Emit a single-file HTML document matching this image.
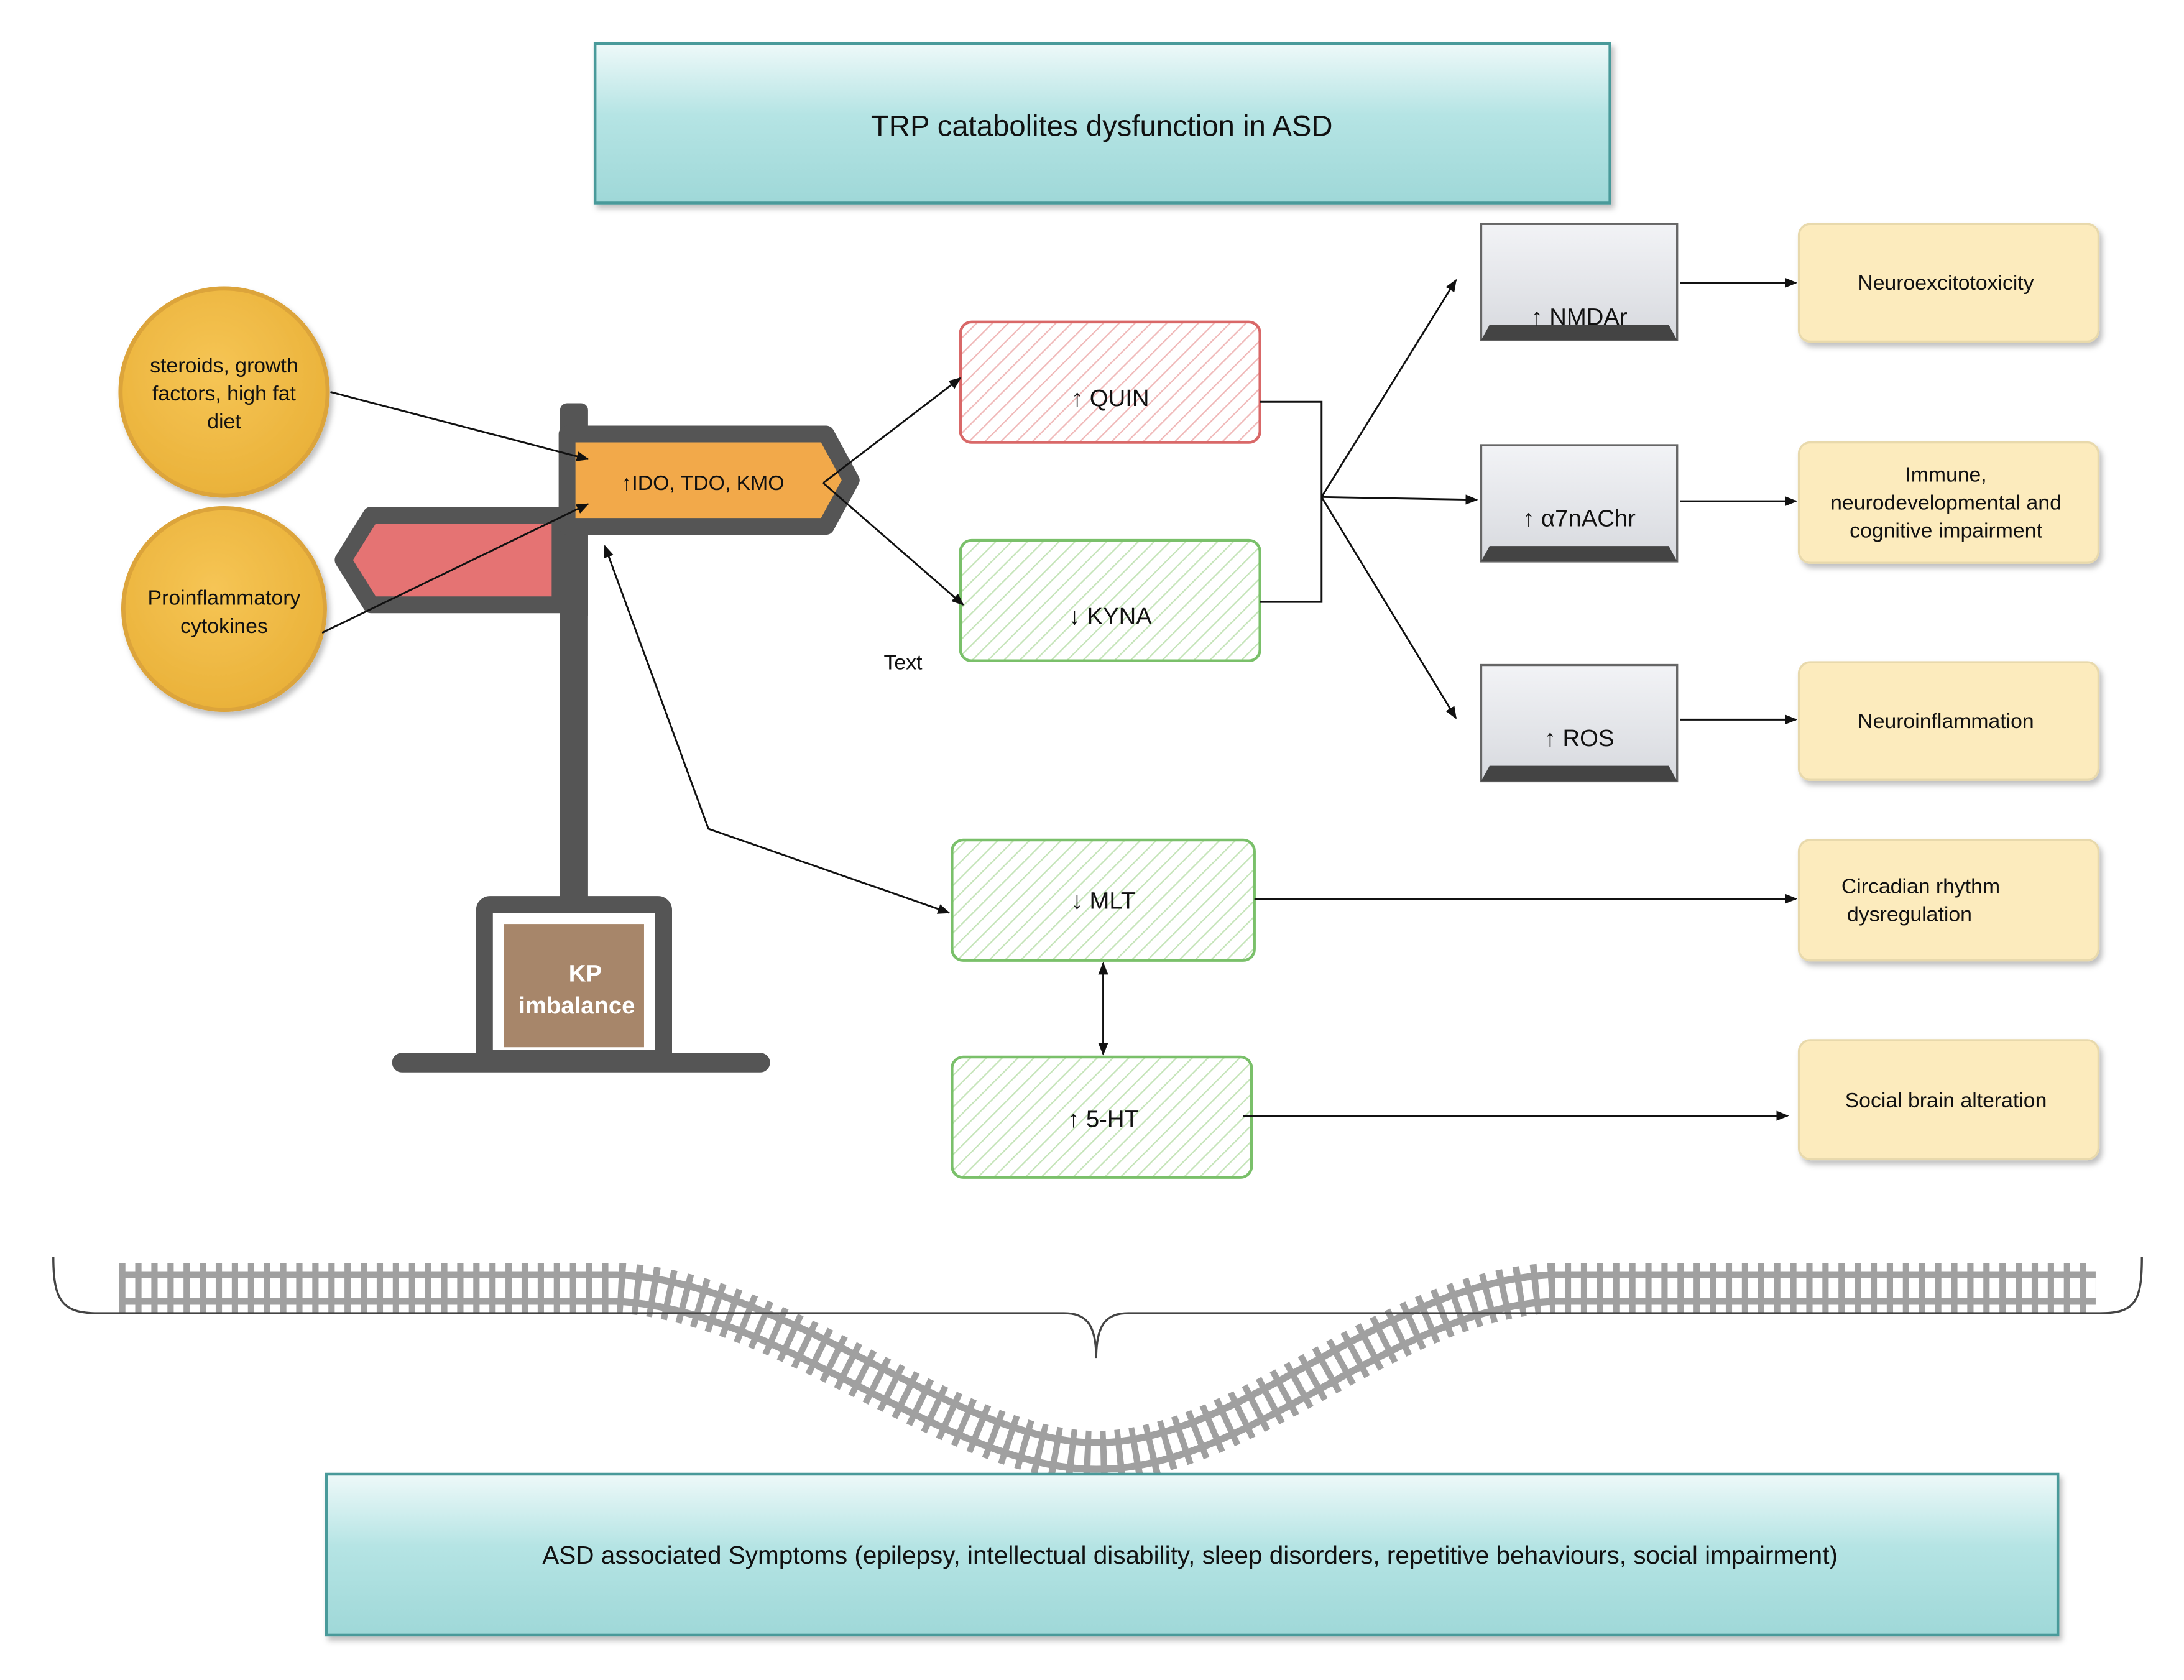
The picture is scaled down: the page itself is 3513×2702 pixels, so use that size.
<!DOCTYPE html>
<html><head><meta charset="utf-8"><style>
html,body{margin:0;padding:0;background:#fff;}
svg{display:block;}
text{font-family:"Liberation Sans",sans-serif;fill:#111;}
</style></head><body>
<svg width="3513" height="2702" viewBox="0 0 1560 1200" xmlns="http://www.w3.org/2000/svg">
<defs>
<linearGradient id="teal" x1="0" y1="0" x2="0" y2="1">
<stop offset="0" stop-color="#eef9f9"/><stop offset="0.45" stop-color="#b5e4e4"/><stop offset="1" stop-color="#9fd8d8"/>
</linearGradient>
<linearGradient id="gray" x1="0" y1="0" x2="0" y2="1">
<stop offset="0" stop-color="#f2f3f6"/><stop offset="1" stop-color="#d7d9de"/>
</linearGradient>
<radialGradient id="gold" cx="0.45" cy="0.4" r="0.6">
<stop offset="0" stop-color="#f6c555"/><stop offset="1" stop-color="#eab23a"/>
</radialGradient>
<pattern id="hr" width="8" height="8" patternUnits="userSpaceOnUse" patternTransform="rotate(45)">
<rect width="8" height="8" fill="#fff"/><line x1="0" y1="0" x2="0" y2="8" stroke="#f0b8b8" stroke-width="2"/>
</pattern>
<pattern id="hg" width="8" height="8" patternUnits="userSpaceOnUse" patternTransform="rotate(45)">
<rect width="8" height="8" fill="#fff"/><line x1="0" y1="0" x2="0" y2="8" stroke="#c4e4b8" stroke-width="2"/>
</pattern>
<marker id="ar" viewBox="0 0 10 10" refX="9" refY="5" markerWidth="9" markerHeight="9" orient="auto-start-reverse" markerUnits="userSpaceOnUse">
<path d="M0,1 L10,5 L0,9 z" fill="#111"/></marker>
<filter id="sh"><feDropShadow dx="2" dy="3" stdDeviation="2" flood-color="#000" flood-opacity="0.25"/></filter>
</defs>

<rect x="425" y="31" width="725" height="114" fill="url(#teal)" stroke="#4a9a9a" stroke-width="2" filter="url(#sh)"/>
<text x="787" y="97" font-size="21" text-anchor="middle">TRP catabolites dysfunction in ASD</text>

<circle cx="160" cy="280" r="74" fill="url(#gold)" stroke="#dca43a" stroke-width="3" filter="url(#sh)"/>
<text font-size="15" text-anchor="middle"><tspan x="160" y="266">steroids, growth</tspan><tspan x="160" y="286">factors, high fat</tspan><tspan x="160" y="306">diet</tspan></text>
<circle cx="160" cy="435" r="72" fill="url(#gold)" stroke="#dca43a" stroke-width="3" filter="url(#sh)"/>
<text font-size="15" text-anchor="middle"><tspan x="160" y="432">Proinflammatory</tspan><tspan x="160" y="452">cytokines</tspan></text>

<rect x="400" y="288" width="20" height="360" rx="5" fill="#555"/>
<path d="M400,368 L265,368 L245,400 L265,432 L400,432 z" fill="#e57373" stroke="#555" stroke-width="12" stroke-linejoin="round"/>
<rect x="400" y="370" width="20" height="70" fill="#555"/>
<path d="M405,310 L590,310 L608,343 L590,376 L405,376 z" fill="#f2a94a" stroke="#555" stroke-width="12" stroke-linejoin="round"/>
<text x="502" y="350" font-size="15" text-anchor="middle">↑IDO, TDO, KMO</text>
<rect x="346" y="646" width="128" height="110" rx="4" fill="#fff" stroke="#555" stroke-width="12"/>
<rect x="360" y="660" width="100" height="88" fill="#a7866a"/>
<text font-size="17" font-weight="bold" text-anchor="middle" style="fill:#fff"><tspan x="418" y="701">KP</tspan><tspan x="412" y="724">imbalance</tspan></text>
<rect x="280" y="752" width="270" height="14" rx="7" fill="#555"/>

<rect x="686" y="230" width="214" height="86" rx="8" fill="url(#hr)" stroke="#d96868" stroke-width="2"/>
<text x="793" y="290" font-size="17" text-anchor="middle">↑ QUIN</text>
<rect x="686" y="386" width="214" height="86" rx="8" fill="url(#hg)" stroke="#7ac06a" stroke-width="2"/>
<text x="793" y="446" font-size="17" text-anchor="middle">↓ KYNA</text>
<rect x="680" y="600" width="216" height="86" rx="8" fill="url(#hg)" stroke="#7ac06a" stroke-width="2"/>
<text x="788" y="649" font-size="17" text-anchor="middle">↓ MLT</text>
<rect x="680" y="755" width="214" height="86" rx="8" fill="url(#hg)" stroke="#7ac06a" stroke-width="2"/>
<text x="788" y="805" font-size="17" text-anchor="middle">↑ 5-HT</text>
<text x="645" y="478" font-size="15" text-anchor="middle">Text</text>

<g>
<rect x="1058" y="160" width="140" height="83" fill="url(#gray)" stroke="#666" stroke-width="1.5"/>
<path d="M1058,243 L1064,232 L1192,232 L1198,243 z" fill="#444"/>
<text x="1128" y="232" font-size="17" text-anchor="middle">↑ NMDAr</text>
</g>
<g>
<rect x="1058" y="318" width="140" height="83" fill="url(#gray)" stroke="#666" stroke-width="1.5"/>
<path d="M1058,401 L1064,390 L1192,390 L1198,401 z" fill="#444"/>
<text x="1128" y="376" font-size="17" text-anchor="middle">↑ α7nAChr</text>
</g>
<g>
<rect x="1058" y="475" width="140" height="83" fill="url(#gray)" stroke="#666" stroke-width="1.5"/>
<path d="M1058,558 L1064,547 L1192,547 L1198,558 z" fill="#444"/>
<text x="1128" y="533" font-size="17" text-anchor="middle">↑ ROS</text>
</g>

<g fill="#fcebbd" stroke="#e8d9ac" stroke-width="1.5" filter="url(#sh)">
<rect x="1285" y="160" width="214" height="84" rx="8"/>
<rect x="1285" y="316" width="214" height="86" rx="8"/>
<rect x="1285" y="473" width="214" height="84" rx="8"/>
<rect x="1285" y="600" width="214" height="86" rx="8"/>
<rect x="1285" y="743" width="214" height="85" rx="8"/>
</g>
<g font-size="15" text-anchor="middle">
<text x="1390" y="207">Neuroexcitotoxicity</text>
<text><tspan x="1390" y="344">Immune,</tspan><tspan x="1390" y="364">neurodevelopmental and</tspan><tspan x="1390" y="384">cognitive impairment</tspan></text>
<text x="1390" y="520">Neuroinflammation</text>
<text><tspan x="1372" y="638">Circadian rhythm</tspan><tspan x="1364" y="658">dysregulation</tspan></text>
<text x="1390" y="791">Social brain alteration</text>
</g>

<g stroke="#111" stroke-width="1.3" fill="none">
<line x1="236" y1="280" x2="420" y2="328" marker-end="url(#ar)"/>
<line x1="230" y1="452" x2="420" y2="360" marker-end="url(#ar)"/>
<line x1="588" y1="345" x2="686" y2="270" marker-end="url(#ar)"/>
<line x1="588" y1="345" x2="688" y2="432" marker-end="url(#ar)"/>
<polyline points="432,390 506,592 678,652" marker-start="url(#ar)" marker-end="url(#ar)"/>
<polyline points="900,287 944,287 944,430 900,430"/>
<line x1="944" y1="355" x2="1040" y2="200" marker-end="url(#ar)"/>
<line x1="944" y1="355" x2="1055" y2="357" marker-end="url(#ar)"/>
<line x1="944" y1="355" x2="1040" y2="513" marker-end="url(#ar)"/>
<line x1="1200" y1="202" x2="1283" y2="202" marker-end="url(#ar)"/>
<line x1="1200" y1="358" x2="1283" y2="358" marker-end="url(#ar)"/>
<line x1="1200" y1="514" x2="1283" y2="514" marker-end="url(#ar)"/>
<line x1="896" y1="642" x2="1283" y2="642" marker-end="url(#ar)"/>
<line x1="888" y1="797" x2="1277" y2="797" marker-end="url(#ar)"/>
<line x1="788" y1="688" x2="788" y2="753" marker-start="url(#ar)" marker-end="url(#ar)"/>
</g>

<g fill="none">
<path d="M85,920 L440,920 C560,925 680,1040 783,1040 C890,1040 990,925 1110,920 L1497,920" stroke="#a0a0a0" stroke-width="24"/>
<path d="M85,920 L440,920 C560,925 680,1040 783,1040 C890,1040 990,925 1110,920 L1497,920" stroke="#fff" stroke-width="14"/>
<path d="M85,920 L440,920 C560,925 680,1040 783,1040 C890,1040 990,925 1110,920 L1497,920" stroke="#a0a0a0" stroke-width="36" stroke-dasharray="4.5 7"/>
</g>

<path d="M38,898 C38,930 45,938 70,938 L760,938 C775,938 783,945 783,970 C783,945 791,938 806,938 L1500,938 C1525,938 1530,930 1530,898" fill="none" stroke="#444" stroke-width="1.5"/>

<rect x="233" y="1053" width="1237" height="115" fill="url(#teal)" stroke="#4a9a9a" stroke-width="2" filter="url(#sh)"/>
<text x="850" y="1117" font-size="18" text-anchor="middle">ASD associated Symptoms (epilepsy, intellectual disability, sleep disorders, repetitive behaviours, social impairment)</text>
</svg>
</body></html>
